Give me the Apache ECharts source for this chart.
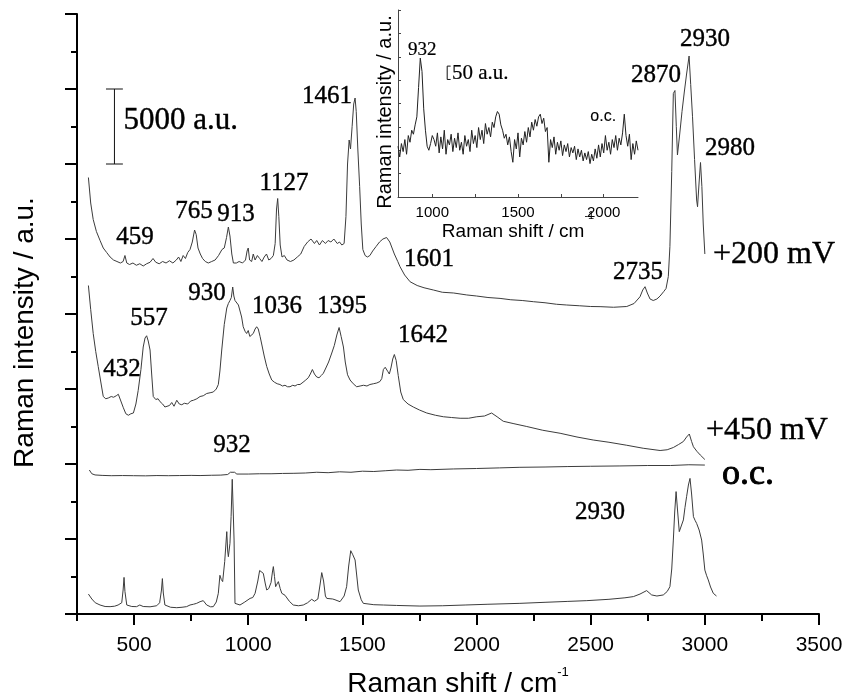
<!DOCTYPE html>
<html><head><meta charset="utf-8">
<script src="https://cdn.jsdelivr.net/npm/echarts@6/dist/echarts.min.js"></script>
<style>html,body{margin:0;padding:0;background:#fff}#c{width:844px;height:697px}</style>
</head><body><div id="c"></div>
<script>
// ---------- axis ticks ----------
const xMajorTicks = [500, 1000, 1500, 2000, 2500, 3000, 3500];
const xMinorTicks = [250, 750, 1250, 1750, 2250, 2750, 3250];
const insetTicks = [1000, 1250, 1500, 1750, 2000];
const insetTickLabels = [1000, 1500, 2000];

// ---------- spectra (Raman shift cm-1, intensity in 10^3 a.u. incl. offset) ----------
const spec200 = [[300,29.1],[310,27.4],[321,26.3],[335,25.5],[351,24.9],[365,24.4],[380,24.1],[395,23.8],[410,23.6],[425,23.5],[440,23.4],[452,23.5],[460,23.9],[468,23.4],[480,23.3],[495,23.4],[510,23.25],[525,23.35],[540,23.2],[555,23.35],[570,23.45],[583,23.7],[595,23.45],[610,23.35],[625,23.5],[640,23.4],[655,23.55],[670,23.4],[685,23.6],[695,23.8],[705,23.5],[715,23.9],[725,23.7],[735,24.1],[745,24.3],[755,24.8],[765,25.6],[772,25.3],[780,24.4],[790,24.0],[800,23.7],[812,23.5],[825,23.4],[840,23.5],[855,23.6],[870,23.9],[885,24.3],[895,24.4],[905,25.1],[913,25.8],[920,25.2],[928,24.0],[935,23.4],[948,23.4],[960,23.5],[975,23.4],[988,23.6],[995,24.2],[1000,24.4],[1006,23.6],[1015,23.5],[1022,24.0],[1030,23.6],[1040,23.9],[1050,23.7],[1060,23.5],[1070,23.8],[1080,24.0],[1090,23.6],[1100,23.7],[1110,23.9],[1118,24.7],[1124,27.0],[1129,27.7],[1134,26.5],[1140,24.6],[1148,23.8],[1158,23.9],[1170,23.6],[1185,23.5],[1200,23.6],[1215,23.8],[1230,24.0],[1245,24.5],[1260,24.8],[1275,25.0],[1290,24.7],[1300,24.9],[1312,24.6],[1325,24.9],[1338,24.7],[1350,24.9],[1362,24.8],[1375,25.0],[1390,24.7],[1400,24.8],[1410,24.6],[1420,24.7],[1428,26.5],[1435,30.0],[1442,31.6],[1448,31.0],[1455,32.5],[1462,34.0],[1468,34.4],[1473,33.5],[1480,31.0],[1488,28.5],[1495,26.0],[1502,24.3],[1512,23.9],[1522,23.8],[1533,23.9],[1545,24.2],[1560,24.5],[1575,24.8],[1590,25.0],[1606,25.1],[1620,24.8],[1640,24.0],[1655,23.5],[1665,23.15],[1685,22.6],[1709,22.15],[1740,21.9],[1770,21.75],[1811,21.6],[1850,21.45],[1900,21.4],[1957,21.27],[2000,21.2],[2050,21.1],[2103,21.04],[2150,20.95],[2200,20.9],[2249,20.82],[2300,20.75],[2350,20.65],[2395,20.6],[2450,20.55],[2500,20.5],[2541,20.49],[2600,20.45],[2658,20.5],[2690,20.7],[2716,21.15],[2728,21.6],[2738,21.82],[2748,21.4],[2760,21.0],[2774,20.9],[2790,21.0],[2804,21.2],[2820,21.5],[2830,21.7],[2840,22.5],[2847,24.5],[2855,29.5],[2862,34.7],[2869,34.9],[2875,32.5],[2880,30.6],[2890,32.0],[2900,33.5],[2910,34.8],[2920,36.0],[2931,37.2],[2938,35.3],[2946,33.15],[2955,30.3],[2964,27.6],[2968,27.15],[2975,28.8],[2981,30.1],[2987,28.5],[2993,26.0],[3000,24.0]];

const spec450 = [[300,21.9],[310,20.3],[321,18.7],[332,17.5],[343,16.5],[355,15.4],[365,14.5],[376,14.35],[387,14.4],[400,14.5],[410,14.45],[422,14.55],[431,14.65],[442,14.2],[453,13.75],[464,13.35],[475,13.25],[486,13.35],[497,13.4],[508,14.0],[518,14.9],[530,16.3],[540,17.8],[548,18.4],[555,18.55],[562,18.2],[570,17.6],[577,16.0],[584,14.5],[595,14.3],[605,14.35],[614,14.15],[625,14.0],[635,13.8],[643,13.7],[655,13.9],[665,14.1],[675,13.85],[687,14.25],[698,14.0],[709,13.95],[720,14.05],[735,14.0],[748,14.2],[760,14.25],[775,14.35],[789,14.5],[803,14.55],[818,14.7],[833,14.75],[847,14.8],[860,15.0],[869,15.3],[876,16.2],[884,17.6],[895,19.3],[906,20.4],[913,20.7],[920,20.9],[926,21.1],[932,21.8],[937,21.2],[942,20.9],[950,20.8],[957,20.6],[964,20.5],[971,19.8],[978,19.15],[986,18.85],[993,18.7],[1000,18.9],[1007,18.5],[1015,18.4],[1022,18.7],[1030,19.0],[1037,19.15],[1044,19.0],[1052,18.5],[1059,18.0],[1070,17.2],[1081,16.5],[1092,16.0],[1103,15.6],[1115,15.45],[1127,15.35],[1139,15.3],[1150,15.2],[1161,15.25],[1172,15.15],[1183,15.15],[1195,15.25],[1205,15.2],[1216,15.3],[1227,15.3],[1240,15.45],[1252,15.6],[1263,15.75],[1272,16.0],[1281,16.3],[1290,16.0],[1300,15.8],[1310,15.75],[1320,15.9],[1329,16.05],[1340,16.4],[1352,16.8],[1366,17.4],[1377,17.9],[1388,18.6],[1398,19.1],[1407,18.5],[1417,17.8],[1425,16.8],[1435,15.95],[1446,15.6],[1460,15.35],[1475,15.15],[1490,15.2],[1505,15.25],[1520,15.2],[1533,15.3],[1548,15.35],[1563,15.4],[1577,15.5],[1585,15.7],[1592,16.3],[1600,16.45],[1607,16.5],[1612,16.15],[1618,16.0],[1625,16.4],[1633,17.0],[1640,17.3],[1648,16.9],[1657,15.9],[1668,14.8],[1679,14.3],[1700,14.0],[1723,13.8],[1750,13.6],[1782,13.4],[1820,13.25],[1855,13.15],[1890,13.1],[1928,13.05],[1965,13.05],[2001,13.15],[2035,13.2],[2066,13.4],[2090,13.15],[2117,12.85],[2160,12.7],[2220,12.5],[2290,12.25],[2366,12.05],[2440,11.8],[2511,11.6],[2580,11.45],[2658,11.25],[2730,11.05],[2804,10.9],[2835,10.95],[2862,11.1],[2885,11.3],[2906,11.5],[2920,11.8],[2932,12.0],[2942,11.5],[2950,11.15],[2965,10.85],[2980,10.6],[3000,10.3]];

const specOC = [[304,9.6],[315,9.35],[329,9.27],[360,9.24],[400,9.22],[450,9.23],[497,9.22],[550,9.21],[600,9.23],[650,9.22],[700,9.23],[750,9.24],[789,9.23],[840,9.25],[880,9.26],[910,9.3],[922,9.45],[930,9.55],[940,9.45],[950,9.33],[964,9.33],[1000,9.33],[1050,9.35],[1100,9.35],[1150,9.37],[1200,9.38],[1250,9.4],[1300,9.45],[1350,9.42],[1400,9.48],[1450,9.45],[1500,9.52],[1550,9.5],[1600,9.55],[1650,9.6],[1700,9.58],[1752,9.64],[1800,9.62],[1900,9.67],[2000,9.7],[2100,9.74],[2190,9.78],[2300,9.8],[2400,9.83],[2500,9.85],[2628,9.87],[2750,9.9],[2850,9.9],[2930,9.95],[3000,9.93]];

const specRef = [[300,1.33],[315,1.0],[330,0.75],[351,0.6],[373,0.5],[395,0.49],[415,0.52],[430,0.6],[446,0.75],[452,1.6],[456,2.44],[460,1.5],[468,0.6],[490,0.5],[511,0.49],[525,0.6],[540,0.5],[570,0.48],[599,0.55],[612,0.75],[620,1.6],[624,2.36],[628,1.4],[635,0.6],[660,0.45],[687,0.42],[710,0.45],[730,0.49],[745,0.6],[760,0.65],[774,0.71],[789,0.82],[803,0.89],[818,0.6],[835,0.48],[847,0.49],[860,0.8],[869,1.38],[876,2.58],[882,2.3],[888,2.16],[897,3.5],[906,5.49],[910,4.2],[913,3.82],[920,4.71],[925,6.5],[930,8.98],[934,7.0],[938,4.93],[942,0.71],[950,0.6],[964,0.6],[985,0.8],[1008,1.04],[1020,1.1],[1030,1.38],[1042,2.2],[1050,2.9],[1055,2.98],[1066,2.71],[1075,2.0],[1081,1.6],[1090,1.7],[1100,2.1],[1106,2.8],[1110,3.16],[1115,2.5],[1120,1.82],[1126,2.0],[1132,2.16],[1140,1.7],[1147,1.38],[1161,1.25],[1180,0.85],[1197,0.6],[1220,0.55],[1241,0.6],[1260,0.75],[1278,0.98],[1290,0.85],[1305,1.0],[1315,2.0],[1322,2.76],[1330,2.2],[1338,1.2],[1344,1.04],[1370,1.0],[1380,0.95],[1402,0.82],[1420,1.2],[1431,1.82],[1440,3.2],[1449,4.22],[1458,3.95],[1468,3.6],[1475,2.6],[1482,1.6],[1495,0.95],[1504,0.71],[1550,0.62],[1592,0.6],[1650,0.57],[1752,0.53],[1850,0.55],[1950,0.6],[2050,0.65],[2190,0.71],[2300,0.78],[2400,0.84],[2483,0.89],[2580,0.98],[2650,1.08],[2687,1.16],[2716,1.33],[2745,1.56],[2767,1.27],[2790,1.2],[2818,1.27],[2835,1.5],[2847,1.82],[2855,3.0],[2862,4.93],[2868,6.8],[2874,8.16],[2880,7.0],[2888,5.49],[2896,5.6],[2906,6.27],[2913,7.1],[2920,7.82],[2928,8.6],[2935,9.04],[2942,8.0],[2950,6.49],[2957,6.25],[2964,6.04],[2975,5.6],[2986,4.93],[2993,4.0],[3000,2.93],[3008,2.55],[3015,2.27],[3025,1.8],[3037,1.38],[3051,1.2]];

// inset: o.c. spectrum (a.u.)
const insetOC = [[800,190],[810,150],[820,200],[830,170],[840,215],[850,160],[860,230],[870,205],[880,250],[890,235],[900,270],[910,300],[920,410],[930,520],[940,470],[950,330],[960,250],[970,190],[980,175],[990,200],[1000,230],[1010,215],[1020,190],[1030,240],[1040,165],[1050,225],[1060,180],[1070,250],[1080,160],[1090,215],[1100,195],[1110,235],[1120,170],[1130,220],[1140,185],[1150,240],[1160,175],[1170,205],[1180,160],[1190,230],[1200,190],[1210,215],[1220,170],[1230,250],[1240,200],[1250,230],[1260,185],[1270,260],[1280,215],[1290,250],[1300,200],[1310,275],[1320,235],[1330,260],[1340,225],[1350,280],[1360,260],[1370,300],[1380,320],[1390,310],[1400,270],[1410,250],[1420,220],[1430,235],[1440,195],[1450,225],[1460,170],[1470,130],[1480,215],[1490,180],[1500,240],[1510,150],[1520,220],[1530,195],[1540,245],[1550,205],[1560,260],[1570,225],[1580,280],[1590,250],[1600,290],[1610,265],[1620,300],[1630,310],[1640,275],[1650,295],[1660,245],[1670,260],[1680,130],[1690,215],[1700,185],[1710,225],[1720,160],[1730,205],[1740,175],[1750,210],[1760,155],[1770,195],[1780,170],[1790,200],[1800,150],[1810,185],[1820,165],[1830,190],[1840,140],[1850,180],[1860,150],[1870,175],[1880,135],[1890,165],[1900,140],[1910,170],[1920,125],[1930,160],[1940,135],[1950,180],[1960,145],[1970,195],[1980,150],[1990,200],[2000,165],[2010,230],[2020,175],[2030,205],[2040,160],[2050,215],[2060,185],[2070,230],[2080,175],[2090,220],[2100,195],[2110,240],[2120,310],[2130,230],[2140,190],[2150,235],[2160,140],[2170,200],[2180,160],[2190,210],[2200,175]];

// annotations: [text, Raman shift, intensity]
const peakLabels = [['459',504,25.13],['765',762,26.87],['913',946,26.67],['1127',1157,28.73],['1461',1345,34.53],['1601',1792,23.67],['2735',2707,22.8],['2870',2786,35.93],['2930',3001,38.33],['2980',3110,31.07],['930',819,21.4],['557',565,19.73],['432',447,16.33],['1036',1126,20.53],['1395',1411,20.53],['1642',1765,18.6],['932',929,11.27],['2930',2541,6.8]];
const curveLabels = [['+200 mV',3303,23.93],['+450 mV',3272,12.2]];
const ocLabel = [['o.c.',3189,9.33]];
const scaleLabel = [['5000 a.u.',451,32.87]];
const scaleBar = {x:414, left:377, right:451, low:30, high:35};
const insetPeakLabel = [['932',942,550]];
const insetScaleLabel = [['50 a.u.',1112,463]];
const insetOcLabel = [['o.c.',1997,302]];
const insetBar = {x:1087, right:1107, low:440, high:490};

const SERIF = 'Liberation Serif', SANS = 'Liberation Sans';
const lineCol = '#3c3c3c';

function spectrum(data, xi, yi, col) {
  return {type:'line', xAxisIndex:xi, yAxisIndex:yi, data:data, showSymbol:false, symbol:'none',
    lineStyle:{color:col||lineCol, width:1}, silent:true, z:3};
}
function seg(pts, xi, yi, w) {
  return {type:'line', xAxisIndex:xi, yAxisIndex:yi, data:pts, showSymbol:false, symbol:'none',
    lineStyle:{color:'#111', width:w}, silent:true, z:4};
}
function labels(items, xi, yi, font, size, pos, stroke) {
  return {type:'scatter', xAxisIndex:xi, yAxisIndex:yi, symbolSize:1, silent:true, z:5,
    itemStyle:{color:'rgba(0,0,0,0)'},
    data: items.map(([t,x,y]) => ({name:t, value:[x,y]})),
    label:{show:true, position:pos, distance:0, formatter:'{b}', color:'#000', opacity:1,
      fontFamily:font, fontSize:size, textBorderColor:'#000', textBorderWidth:stroke||0.4}};
}
const plain = v => String(v);

const chart = echarts.init(document.getElementById('c'), null, {renderer:'canvas'});
chart.setOption({
  animation:false,
  backgroundColor:'#fff',
  grid:[
    {left:77, top:14, width:742, height:600, outerBoundsMode:'none', containLabel:false},
    {left:398, top:10, width:240, height:187, outerBoundsMode:'none', containLabel:false}
  ],
  xAxis:[
    {gridIndex:0, type:'value', min:250, max:3500, position:'bottom', nameMoveOverlap:false,
      axisLine:{show:true, onZero:false, lineStyle:{color:'#000', width:2}},
      axisTick:{show:true, customValues:xMajorTicks, length:11, lineStyle:{color:'#000', width:2}},
      axisLabel:{show:true, customValues:xMajorTicks, formatter:plain, margin:21, color:'#000', fontFamily:SANS, fontSize:21},
      splitLine:{show:false},
      name:'{t|Raman shift / cm}{s|-1}', nameLocation:'middle', nameGap:52,
      nameTextStyle:{padding:[0,0,0,20], rich:{
        t:{fontFamily:SANS, fontSize:28, color:'#000', lineHeight:32, verticalAlign:'bottom'},
        s:{fontFamily:SANS, fontSize:13, color:'#000', lineHeight:13, verticalAlign:'top'}}}},
    {gridIndex:0, type:'value', min:250, max:3500, position:'bottom',
      axisLine:{show:false, onZero:false},
      axisTick:{show:true, customValues:xMinorTicks, length:7, lineStyle:{color:'#000', width:2}},
      axisLabel:{show:false}, splitLine:{show:false}},
    {gridIndex:1, type:'value', min:800, max:2200, position:'bottom', nameMoveOverlap:false,
      axisLine:{show:true, onZero:false, lineStyle:{color:'#444', width:1}},
      axisTick:{show:true, inside:true, customValues:insetTicks, length:3, lineStyle:{color:'#444', width:1}},
      axisLabel:{show:true, customValues:insetTickLabels, formatter:plain, margin:8, color:'#000', fontFamily:SANS, fontSize:15},
      splitLine:{show:false},
      name:'{t|Raman shift / cm}{s|-1}', nameLocation:'middle', nameGap:13,
      nameTextStyle:{rich:{
        t:{fontFamily:SANS, fontSize:19, color:'#000', lineHeight:31, verticalAlign:'bottom'},
        s:{fontFamily:SANS, fontSize:11, color:'#000', lineHeight:11, verticalAlign:'top'}}}}
  ],
  yAxis:[
    {gridIndex:0, type:'value', min:0, max:40, interval:5, nameMoveOverlap:false,
      axisLine:{show:true, onZero:false, lineStyle:{color:'#000', width:2}},
      axisTick:{show:true, length:12, lineStyle:{color:'#000', width:2}},
      minorTick:{show:true, splitNumber:2, length:6, lineStyle:{color:'#000', width:2}},
      axisLabel:{show:false}, splitLine:{show:false}, minorSplitLine:{show:false},
      name:'Raman intensity / a.u.', nameLocation:'middle', nameRotate:90, nameGap:38,
      nameTextStyle:{fontFamily:SANS, fontSize:28, color:'#000', padding:[0,37,0,0]}},
    {gridIndex:1, type:'value', min:0, max:700, interval:87.5, nameMoveOverlap:false,
      axisLine:{show:true, onZero:false, lineStyle:{color:'#444', width:1}},
      axisTick:{show:true, inside:true, length:3, lineStyle:{color:'#444', width:1}},
      axisLabel:{show:false}, splitLine:{show:false},
      name:'Raman intensity / a.u.', nameLocation:'middle', nameRotate:90, nameGap:3,
      nameTextStyle:{fontFamily:SANS, fontSize:20, color:'#000', padding:[0,17,0,0]}}
  ],
  series:[
    spectrum(spec200,0,0), spectrum(spec450,0,0), spectrum(specOC,0,0), spectrum(specRef,0,0),
    spectrum(insetOC,2,1,'#222'),
    seg([[scaleBar.x,scaleBar.low],[scaleBar.x,scaleBar.high]],0,0,1),
    seg([[scaleBar.left,scaleBar.high],[scaleBar.right,scaleBar.high]],0,0,1),
    seg([[scaleBar.left,scaleBar.low],[scaleBar.right,scaleBar.low]],0,0,1),
    seg([[insetBar.x,insetBar.low],[insetBar.x,insetBar.high]],2,1,1),
    seg([[insetBar.x,insetBar.high],[insetBar.right,insetBar.high]],2,1,1),
    seg([[insetBar.x,insetBar.low],[insetBar.right,insetBar.low]],2,1,1),
    labels(peakLabels,0,0,SERIF,25,'inside'),
    labels(curveLabels,0,0,SERIF,32,'inside'),
    labels(ocLabel,0,0,SERIF,36,'inside',0.9),
    labels(scaleLabel,0,0,SERIF,31,'right'),
    labels(insetPeakLabel,2,1,SERIF,19,'inside',0.2),
    labels(insetScaleLabel,2,1,SERIF,21,'right',0.2),
    labels(insetOcLabel,2,1,SANS,16,'inside',0.1)
  ]
});
</script></body></html>
